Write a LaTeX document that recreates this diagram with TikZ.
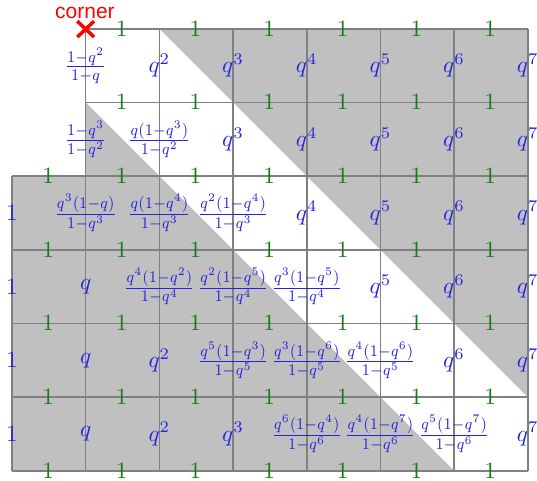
\documentclass[tikz,border=0pt]{standalone}
\usepackage{graphicx}
\usepackage{fontspec}
\newfontfamily\cornerfont{Liberation Sans}
\definecolor{lblblue}{RGB}{35,35,225}
\definecolor{lblgreen}{RGB}{20,125,20}
\definecolor{shadegray}{RGB}{192,192,192}
\definecolor{gridc}{RGB}{128,128,128}
\newcommand\qfr[2]{\scalebox{0.88}[1]{$\frac{#1}{#2}$}}
\begin{document}
\begin{tikzpicture}[x=31.62pt,y=-31.62pt,
  vlab/.style={text=lblblue,inner sep=0pt},
  hlab/.style={text=lblgreen,inner sep=0pt},
  gridline/.style={draw=gridc,line width=0.7pt},
  cornermark/.style={draw=red,line width=1.5pt},
  cornertext/.style={text=red,inner sep=0pt,font=\cornerfont\fontsize{9}{10}\selectfont}]
\useasboundingbox (-0.163,-0.390) rectangle (7.126,6.126);
% shaded regions
\fill[shadegray] (2,0) -- (7,0) -- (7,5) -- cycle;
\fill[shadegray] (1,1) -- (6,6) -- (0,6) -- (0,2) -- (1,2) -- cycle;
% grid
\foreach \j in {0,1} \draw[gridline] (1,\j) -- (7,\j);
\foreach \j in {2,...,6} \draw[gridline] (0,\j) -- (7,\j);
\draw[gridline] (0,2) -- (0,6);
\foreach \i in {1,...,7} \draw[gridline] (\i,0) -- (\i,6);
% green labels on horizontal edges
\foreach \j in {0,1} \foreach \i in {1,...,6}
  \node[hlab] (h-\i-\j) at (\i+0.49,\j) {$1$};
\foreach \j in {2,...,6} \foreach \i in {0,...,6}
  \node[hlab] (h-\i-\j) at (\i+0.49,\j) {$1$};
% blue labels on vertical edges
\foreach \i/\t in {1/{\qfr{1-q^2}{1-q}},2/{q^2},3/{q^3},4/{q^4},5/{q^5},6/{q^6},7/{q^7}}
  \node[vlab] (v-\i-0) at (\i,0.5) {$\t$};
\foreach \i/\t in {1/{\qfr{1-q^3}{1-q^2}},2/{\qfr{q(1-q^3)}{1-q^2}},3/{q^3},4/{q^4},5/{q^5},6/{q^6},7/{q^7}}
  \node[vlab] (v-\i-1) at (\i,1.5) {$\t$};
\foreach \i/\t in {0/{1},1/{\qfr{q^3(1-q)}{1-q^3}},2/{\qfr{q(1-q^4)}{1-q^3}},3/{\qfr{q^2(1-q^4)}{1-q^3}},4/{q^4},5/{q^5},6/{q^6},7/{q^7}}
  \node[vlab] (v-\i-2) at (\i,2.5) {$\t$};
\foreach \i/\t in {0/{1},1/{q},2/{\qfr{q^4(1-q^2)}{1-q^4}},3/{\qfr{q^2(1-q^5)}{1-q^4}},4/{\qfr{q^3(1-q^5)}{1-q^4}},5/{q^5},6/{q^6},7/{q^7}}
  \node[vlab] (v-\i-3) at (\i,3.5) {$\t$};
\foreach \i/\t in {0/{1},1/{q},2/{q^2},3/{\qfr{q^5(1-q^3)}{1-q^5}},4/{\qfr{q^3(1-q^6)}{1-q^5}},5/{\qfr{q^4(1-q^6)}{1-q^5}},6/{q^6},7/{q^7}}
  \node[vlab] (v-\i-4) at (\i,4.5) {$\t$};
\foreach \i/\t in {0/{1},1/{q},2/{q^2},3/{q^3},4/{\qfr{q^6(1-q^4)}{1-q^6}},5/{\qfr{q^4(1-q^7)}{1-q^6}},6/{\qfr{q^5(1-q^7)}{1-q^6}},7/{q^7}}
  \node[vlab] (v-\i-5) at (\i,5.5) {$\t$};
% corner marker
\coordinate (corner) at (1,0.005);
\draw[cornermark] ([shift={(-3.6pt,-3.4pt)}]corner) -- ([shift={(3.6pt,3.4pt)}]corner);
\draw[cornermark] ([shift={(-3.6pt,3.4pt)}]corner) -- ([shift={(3.6pt,-3.4pt)}]corner);
\node[cornertext] (cornerlabel) at (0.99,-0.213) {corner};
\end{tikzpicture}
\end{document}
